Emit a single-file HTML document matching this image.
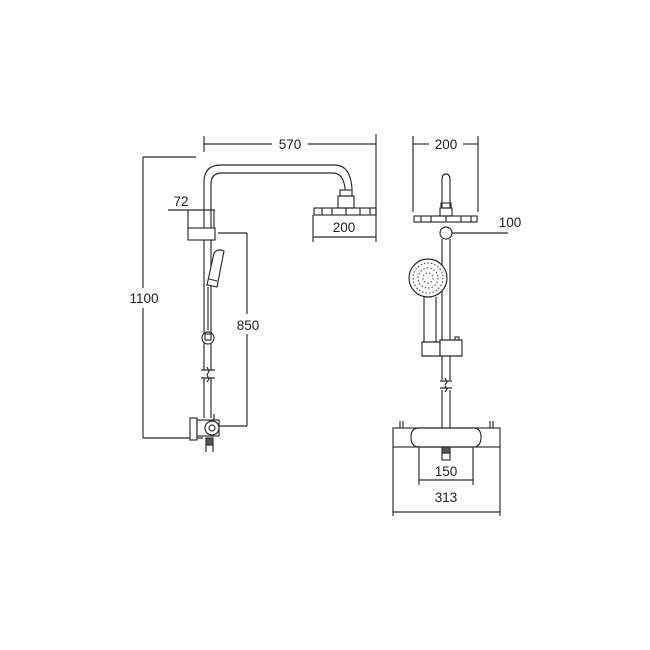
<!DOCTYPE html>
<html><head><style>html,body{margin:0;padding:0;background:#fff}svg{display:block}</style></head>
<body>
<svg width="650" height="650" viewBox="0 0 650 650" xmlns="http://www.w3.org/2000/svg" font-family="Liberation Sans, sans-serif" font-size="13.5" fill="none" stroke="#2a2a2a" stroke-width="1.15">
<!-- LEFT VIEW -->
<line x1="204" y1="136" x2="204" y2="152"/>
<line x1="376" y1="134" x2="376" y2="242"/>
<line x1="204" y1="144" x2="272" y2="144"/><line x1="308" y1="144" x2="376" y2="144"/>
<text x="290" y="149" text-anchor="middle" fill="#222" stroke="none">570</text>
<line x1="143" y1="157" x2="196" y2="157"/><line x1="143" y1="438" x2="203" y2="438"/>
<line x1="143" y1="157" x2="143" y2="288"/><line x1="143" y1="308" x2="143" y2="438"/>
<text x="144" y="303" text-anchor="middle" fill="#222" stroke="none">1100</text>
<path d="M204 418 V182 Q204 165 221 165 H335 Q350 165 352 188 V190"/>
<path d="M211 418 V184 Q211 173 222 173 H333 Q343 173 345 188 V190"/>
<rect x="340" y="190" width="12" height="6"/>
<rect x="338" y="196" width="16" height="12"/>
<rect x="314" y="208" width="62" height="7"/>
<path d="M322 208v7M332 208v7M346 208v7M360 208v7M370 208v7"/>
<line x1="313" y1="215" x2="313" y2="242"/>
<line x1="313" y1="237" x2="376" y2="237"/>
<text x="344" y="232" text-anchor="middle" fill="#222" stroke="none">200</text>
<text x="181" y="206" text-anchor="middle" fill="#222" stroke="none">72</text>
<line x1="168" y1="210" x2="215" y2="210"/>
<line x1="188" y1="210" x2="188" y2="228"/><line x1="214" y1="210" x2="214" y2="228"/>
<rect x="188" y="228" width="27" height="12" fill="#fff"/>
<line x1="218" y1="233" x2="247" y2="233"/><line x1="218" y1="426" x2="247" y2="426"/>
<line x1="247" y1="233" x2="247" y2="314"/><line x1="247" y1="334" x2="247" y2="426"/>
<text x="248" y="330" text-anchor="middle" fill="#222" stroke="none">850</text>
<path d="M207 285 L214 253 Q218 248 224 251 L217 287 Z" fill="#fff"/>
<path d="M209 279 L217 281"/>
<path d="M208 287 L208 330"/>
<circle cx="208" cy="338" r="6" fill="#fff"/>
<rect x="205" y="334" width="6" height="6"/>
<rect x="202" y="368" width="12" height="12" fill="#fff" stroke="none"/>
<path d="M201 370h14M201 378h14M207 367l2 4-2 4M207 375l2 4-2 3"/>
<path d="M204 367v3M211 367v3M204 378v4M211 378v4"/>
<rect x="190" y="418" width="7" height="22" fill="#fff"/>
<rect x="197" y="420" width="22" height="16" fill="#fff"/>
<circle cx="212" cy="428" r="7" fill="#fff"/><circle cx="212" cy="428" r="3"/>
<line x1="214" y1="414" x2="214" y2="420"/>
<rect x="206" y="438" width="7" height="7" fill="#555"/>
<path d="M206 445v7M213 445v7"/>
<!-- RIGHT VIEW -->
<line x1="413" y1="136" x2="413" y2="212"/><line x1="478" y1="136" x2="478" y2="212"/>
<line x1="413" y1="144" x2="429" y2="144"/><line x1="463" y1="144" x2="478" y2="144"/>
<text x="446" y="149" text-anchor="middle" fill="#222" stroke="none">200</text>
<path d="M442 208 V180 Q442 174 446 174 Q450 174 450 180 V208"/>
<rect x="441" y="203" width="10" height="5"/>
<rect x="440" y="208" width="12" height="8"/>
<rect x="414" y="216" width="63" height="6"/>
<path d="M421 216v6M431 216v6M446 216v6M461 216v6M471 216v6"/>
<circle cx="446" cy="233" r="6" fill="#fff"/>
<line x1="452" y1="233" x2="508" y2="233"/>
<text x="510" y="227" text-anchor="middle" fill="#222" stroke="none">100</text>
<path d="M442 239 V428 M450 239 V428"/>
<circle cx="428" cy="278" r="19" fill="#fff"/>
<circle cx="428" cy="278" r="15" stroke-dasharray="1.5 2" stroke="#555"/>
<circle cx="428" cy="278" r="10" stroke-dasharray="1.5 2" stroke="#555"/>
<circle cx="428" cy="278" r="5" stroke-dasharray="1.5 2" stroke="#555"/>
<path d="M424 297 V342 M436 297 V342"/>
<path d="M422 342 h18 v14 h-18 z" fill="#fff"/>
<path d="M440 340 h22 v16 h-22 z" fill="#fff"/>
<rect x="455" y="337" width="4" height="3"/>
<rect x="440" y="380" width="12" height="10" fill="#fff" stroke="none"/>
<path d="M440 381h12M440 388h12M445 378l2 4-2 3M445 386l2 3-2 3"/>
<rect x="393" y="428" width="107" height="19" fill="#fff"/>
<path d="M419 428 H473 Q481 428 481 437 Q481 447 473 447 H419 Q411 447 411 437 Q411 428 419 428 Z" fill="#fff"/>
<path d="M400 421v7M403 421v7M490 421v7M493 421v7"/>
<rect x="442" y="447" width="8" height="6" fill="#555"/>
<rect x="442" y="453" width="8" height="7"/>
<line x1="419" y1="447" x2="419" y2="485"/><line x1="473" y1="447" x2="473" y2="485"/>
<line x1="419" y1="480" x2="473" y2="480"/>
<text x="446" y="476" text-anchor="middle" fill="#222" stroke="none">150</text>
<line x1="393" y1="447" x2="393" y2="516"/><line x1="500" y1="447" x2="500" y2="516"/>
<line x1="393" y1="512" x2="500" y2="512"/>
<text x="446" y="502" text-anchor="middle" fill="#222" stroke="none">313</text>
</svg>
</body></html>
